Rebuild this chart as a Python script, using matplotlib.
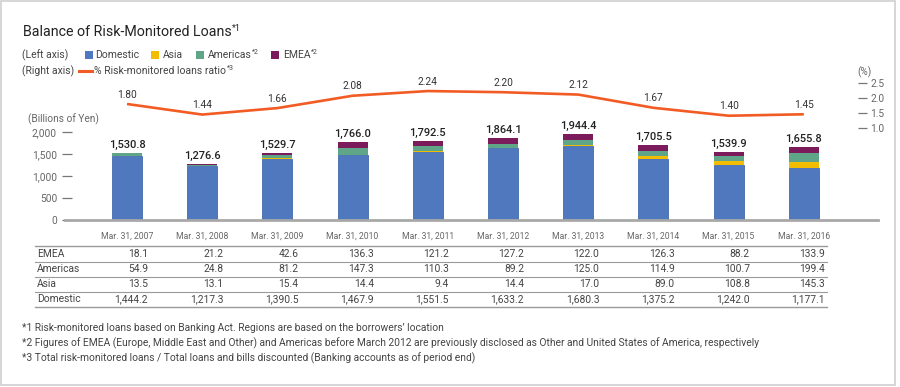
import matplotlib
matplotlib.use('Agg')
import matplotlib.pyplot as plt
from matplotlib.patches import Rectangle
from matplotlib.lines import Line2D
import matplotlib.transforms as mtransforms
from matplotlib.ticker import FuncFormatter

plt.rcParams['font.family'] = ['Roboto', 'DejaVu Sans']

# ---------------- data ----------------
dates = ["Mar. 31, 2007", "Mar. 31, 2008", "Mar. 31, 2009", "Mar. 31, 2010", "Mar. 31, 2011",
         "Mar. 31, 2012", "Mar. 31, 2013", "Mar. 31, 2014", "Mar. 31, 2015", "Mar. 31, 2016"]
domestic = [1444.2, 1217.3, 1390.5, 1467.9, 1551.5, 1633.2, 1680.3, 1375.2, 1242.0, 1177.1]
asia = [13.5, 13.1, 15.4, 14.4, 9.4, 14.4, 17.0, 89.0, 108.8, 145.3]
americas = [54.9, 24.8, 81.2, 147.3, 110.3, 89.2, 125.0, 114.9, 100.7, 199.4]
emea = [18.1, 21.2, 42.6, 136.3, 121.2, 127.2, 122.0, 126.3, 88.2, 133.9]
totals = [1530.8, 1276.6, 1529.7, 1766.0, 1792.5, 1864.1, 1944.4, 1705.5, 1539.9, 1655.8]
ratio = [1.80, 1.44, 1.66, 2.08, 2.24, 2.20, 2.12, 1.67, 1.40, 1.45]
left_ticks = [0, 500, 1000, 1500, 2000]
right_ticks = [1.0, 1.5, 2.0, 2.5]

C_DOM = '#4f78be'
C_ASIA = '#f2bd00'
C_AME = '#5fa688'
C_EMEA = '#7c1b5c'
C_LINE = '#f25c24'
GRAY = '#666666'
DARK = '#333333'

W, H = 900, 387
fig = plt.figure(figsize=(W / 100, H / 100), dpi=100)


def fx(x):
    return x / W


def fy(y):
    return 1 - y / H


# border
fig.patches.append(Rectangle((fx(1), fy(385)), fx(895) - fx(1), fy(1) - fy(385),
                             transform=fig.transFigure, fill=False,
                             edgecolor='#cfcfcf', linewidth=1.2))

# ---------------- main axes ----------------
AX_L, AX_R, AX_T, AX_B = 72, 878, 80, 220
x0, step = 127, 75.2
ax = fig.add_axes([fx(AX_L), fy(AX_B), fx(AX_R) - fx(AX_L), fy(AX_T) - fy(AX_B)])
ax.set_xlim((AX_L - x0) / step, (AX_R - x0) / step)
ax.set_ylim(0, 2000 * (AX_B - AX_T) / 88)
for s in ax.spines.values():
    s.set_visible(False)

xs = list(range(len(dates)))
bw = 0.4
b1 = [d + a for d, a in zip(domestic, asia)]
b2 = [v + a for v, a in zip(b1, americas)]
ax.bar(xs, domestic, bw, color=C_DOM, edgecolor='#4369ad', linewidth=0.6, zorder=2)
ax.bar(xs, asia, bw, bottom=domestic, color=C_ASIA, linewidth=0, zorder=2)
ax.bar(xs, americas, bw, bottom=b1, color=C_AME, linewidth=0, zorder=2)
ax.bar(xs, emea, bw, bottom=b2, color=C_EMEA, linewidth=0, zorder=2)

for x, t in zip(xs, totals):
    ax.annotate(f"{t:,.1f}", (x, t), xytext=(0, 2.2), textcoords='offset points',
                ha='center', va='bottom', fontsize=7.9, fontweight='medium', color='#222222')

ax.axhline(0, xmin=(65 - AX_L) / (AX_R - AX_L), xmax=1, color='#a8a8a8',
           linewidth=2, clip_on=False, zorder=3)

ax.set_yticks(left_ticks)
ax.yaxis.set_major_formatter(FuncFormatter(lambda v, p: f"{int(v):,}"))
ax.tick_params(axis='y', direction='out', length=7.2, width=0.9, color='#777777',
               pad=3.6, labelsize=7.3, labelcolor=GRAY)
ax.set_xticks(xs)
ax.set_xticklabels(dates)
ax.tick_params(axis='x', length=0, pad=8.3, labelsize=6.2, labelcolor=GRAY)

# ratio line on twin axis
ax2 = ax.twinx()
r_lo = 1.0 - (AX_B - 127.5) / 29.4
r_hi = 1.0 + (127.5 - AX_T) / 29.4
ax2.set_ylim(r_lo, r_hi)
ax2.set_yticks([])
for s in ax2.spines.values():
    s.set_visible(False)
ax2.plot(xs, ratio, color=C_LINE, linewidth=1.9, solid_capstyle='butt', zorder=4)
for x, r in zip(xs, ratio):
    ax2.annotate(f"{r:.2f}", (x, r), xytext=(0, 3.2), textcoords='offset points',
                 ha='center', va='bottom', fontsize=7.3, color=DARK)

# right tick display axis
ax3 = fig.add_axes([fx(AX_L), fy(AX_B), fx(858) - fx(AX_L), fy(AX_T) - fy(AX_B)], frameon=False)
ax3.set_ylim(r_lo, r_hi)
ax3.set_xticks([])
ax3.yaxis.tick_right()
ax3.set_yticks(right_ticks)
ax3.set_yticklabels([f"{v:.1f}" for v in right_ticks])
ax3.tick_params(axis='y', direction='out', length=6.5, width=0.9, color='#777777',
                pad=2.2, labelsize=7.3, labelcolor=GRAY)
ax3.patch.set_visible(False)

fig.text(fx(857), fy(72), "(%)", fontsize=7.3, color=GRAY, ha='left', va='center')
fig.text(fx(28), fy(119), "(Billions of Yen)", fontsize=7.3, color=GRAY, ha='left', va='center')

# ---------------- title & legend ----------------
fig.canvas.draw()
renderer = fig.canvas.get_renderer()


def text_sup(x, y, main, sup, size, color, sup_size=None, **kw):
    t = fig.text(fx(x), fy(y), main, fontsize=size, color=color, ha='left', va='center', **kw)
    bb = t.get_window_extent(renderer)
    if sup:
        fig.text(fx(bb.x1 + 0.5), fy(y - size * 0.33), sup, fontsize=sup_size or size * 0.6,
                 color=color, ha='left', va='center')
    return bb.x1


text_sup(23, 32, "Balance of Risk-Monitored Loans", "*1", 10.3, '#222222', sup_size=6.6)

LEG_Y1, LEG_Y2 = 55, 71
fig.text(fx(22), fy(LEG_Y1), "(Left axis)", fontsize=7.5, color='#444444', ha='left', va='center')
fig.text(fx(22), fy(LEG_Y2), "(Right axis)", fontsize=7.5, color='#444444', ha='left', va='center')
legend_items = [("Domestic", "", C_DOM, 85, 95), ("Asia", "", C_ASIA, 151, 163),
                ("Americas", "*2", C_AME, 196, 208), ("EMEA", "*2", C_EMEA, 271, 283)]
for name, sup, col, sx, tx in legend_items:
    fig.patches.append(Rectangle((fx(sx), fy(LEG_Y1 + 4)), fx(8), 8 / H,
                                 transform=fig.transFigure, facecolor=col, edgecolor='none'))
    text_sup(tx, LEG_Y1, name, sup, 7.5, '#444444', sup_size=5.0)
fig.lines.append(Line2D([fx(79), fx(92)], [fy(LEG_Y2), fy(LEG_Y2)], transform=fig.transFigure,
                        color=C_LINE, linewidth=2.2))
text_sup(94, LEG_Y2, "% Risk-monitored loans ratio", "*3", 7.5, '#444444', sup_size=5.0)

# ---------------- table ----------------
TL, TR = 35, 827
row_lines = [246.5, 261.5, 276.5, 291.5, 306.5]
for i, yl in enumerate(row_lines):
    fig.lines.append(Line2D([fx(TL), fx(TR)], [fy(yl), fy(yl)], transform=fig.transFigure,
                            color='#9a9a9a', linewidth=1.0 if i in (0, 4) else 0.8))
table_rows = [("EMEA", emea), ("Americas", americas), ("Asia", asia), ("Domestic", domestic)]
blend = mtransforms.blended_transform_factory(ax.transData, fig.transFigure)
for i, (name, vals) in enumerate(table_rows):
    yc = (row_lines[i] + row_lines[i + 1]) / 2 + 0.3
    fig.text(fx(37), fy(yc), name, fontsize=7.4, color='#444444', ha='left', va='center')
    for x, v in zip(xs, vals):
        fig.text(x + 0.28, fy(yc), f"{v:,.1f}", transform=blend, fontsize=7.4,
                 color='#444444', ha='right', va='center')

# ---------------- footnotes ----------------
notes = [
    "*1 Risk-monitored loans based on Banking Act. Regions are based on the borrowers\u2019 location",
    "*2 Figures of EMEA (Europe, Middle East and Other) and Americas before March 2012 are previously disclosed as Other and United States of America, respectively",
    "*3 Total risk-monitored loans / Total loans and bills discounted (Banking accounts as of period end)",
]
for i, n in enumerate(notes):
    fig.text(fx(22), fy(328 + 15 * i), n, fontsize=7.4, color='#444444', ha='left', va='center')

fig.savefig('out.png', dpi=100)
